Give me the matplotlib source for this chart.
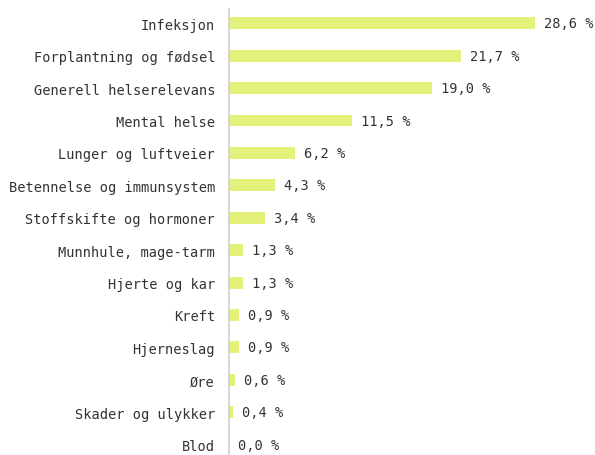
import matplotlib
matplotlib.use("Agg")
import matplotlib.pyplot as plt

categories = ["Infeksjon", "Forplantning og fødsel", "Generell helserelevans", "Mental helse",
              "Lunger og luftveier", "Betennelse og immunsystem", "Stoffskifte og hormoner",
              "Munnhule, mage-tarm", "Hjerte og kar", "Kreft", "Hjerneslag", "Øre",
              "Skader og ulykker", "Blod"]
values = [28.6, 21.7, 19.0, 11.5, 6.2, 4.3, 3.4, 1.3, 1.3, 0.9, 0.9, 0.6, 0.4, 0.0]

plt.rcParams['font.family'] = ['DejaVu Sans Mono']
fig = plt.figure(figsize=(5.95, 4.56), dpi=100)
ax = fig.add_axes([229/595, 0, 1 - 229/595, 1 - 10/456])
y = list(range(len(categories)))
ax.barh(y, values, height=0.37, color="#e3f07a", zorder=2)
ax.set_ylim(13.32, -0.44)
ax.set_xlim(0, 366/10.7)
ax.set_yticks(y)
ax.set_yticklabels(categories, fontsize=9.8, color="#333333")
ax.tick_params(axis='y', length=0, pad=10)
ax.set_xticks([])
for s in ["top", "right", "bottom"]:
    ax.spines[s].set_visible(False)
ax.spines["left"].set_color("#d0d0d0")
ax.spines["left"].set_linewidth(1.2)
for yi, v in zip(y, values):
    ax.annotate(f"{v:.1f} %".replace(".", ","), (v, yi), xytext=(6.5, 0), textcoords="offset points",
                va="center", ha="left", fontsize=9.8, color="#333333")
fig.savefig("out.png", dpi=100)
